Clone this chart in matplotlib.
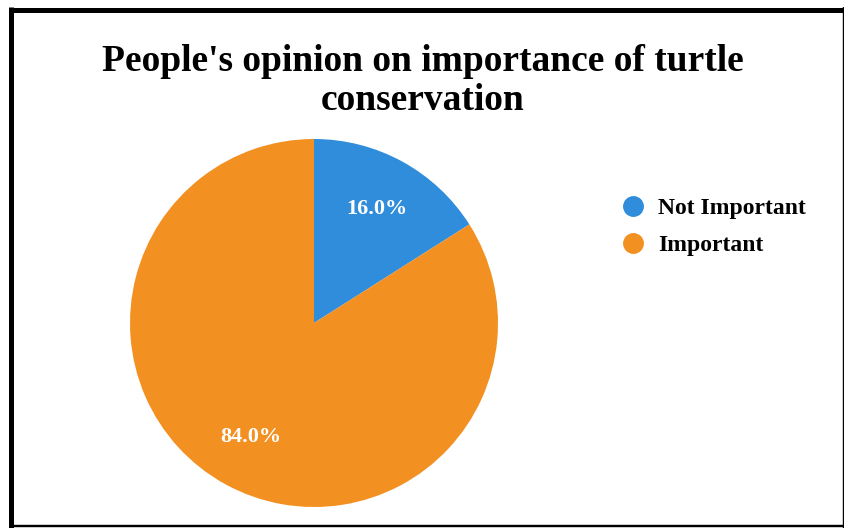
import matplotlib
matplotlib.use("Agg")
import matplotlib.pyplot as plt
from matplotlib.lines import Line2D

# data
labels = ["Not Important", "Important"]
shares = [16.0, 84.0]
colours = ["#2f8ddb", "#f39022"]

title = "People's opinion on importance of turtle\nconservation"

plt.rcParams["font.family"] = ["Liberation Serif", "DejaVu Serif"]

fig = plt.figure(figsize=(8.45, 5.28), dpi=100)

# pie, centred at about (314, 323) px with a radius of about 184 px
W, H = 845, 528
cx, cy, r = 314, 323, 184
ax = fig.add_axes([(cx - r) / W, (H - cy - r) / H, 2 * r / W, 2 * r / H])
wedges, texts, autotexts = ax.pie(shares, colors=colours, startangle=90, counterclock=False,
                                  autopct="%1.1f%%", pctdistance=0.71, radius=1,
                                  textprops=dict(color="white", fontsize=16, fontweight="bold"))
ax.set_xlim(-1, 1)
ax.set_ylim(-1, 1)
ax.set_aspect("equal")

fig.text(0.5, 1 - 81 / H, title, ha="center", va="center", fontsize=27,
         fontweight="bold", linespacing=1.15)

# legend with round markers
handles = [Line2D([], [], marker="o", linestyle="", markersize=14, color=c) for c in colours]
fig.legend(handles, labels, loc="upper left", bbox_to_anchor=(600 / W, 1 - 188 / H),
           frameon=False, prop=dict(size=17, weight="bold"), handletextpad=0.05,
           labelspacing=0.65, borderaxespad=0)

# black frame: heavy on the top and left, thin on the right and bottom
def px_line(x0, y0, x1, y1, width_px):
    fig.add_artist(Line2D([x0 / W, x1 / W], [1 - y0 / H, 1 - y1 / H], transform=fig.transFigure,
                          color="black", linewidth=width_px * 0.72, solid_capstyle="butt"))

px_line(9, 9.5, 845, 9.5, 5)
px_line(11.5, 7, 11.5, 528, 5)
px_line(843.8, 7, 843.8, 528, 2.4)
px_line(9, 525.8, 845, 525.8, 2.4)

fig.savefig("out.png", dpi=100)
